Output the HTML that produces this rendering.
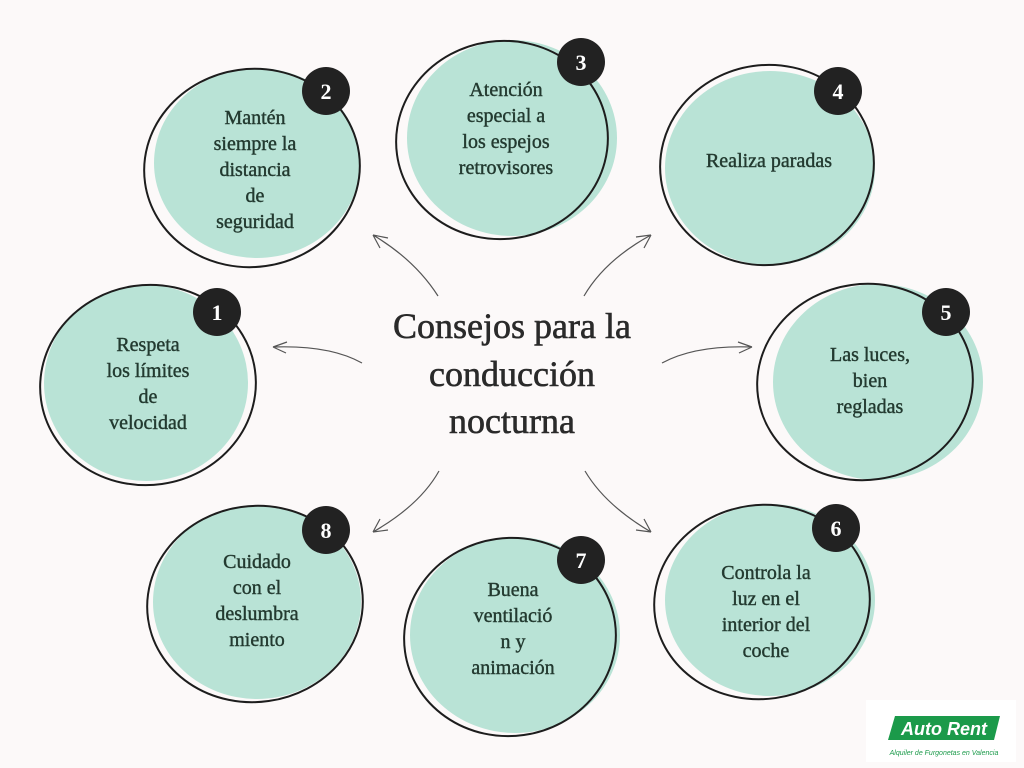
<!DOCTYPE html>
<html><head><meta charset="utf-8"><style>
html,body{margin:0;padding:0;background:#fcf9f9;}
svg{display:block}
.t{font-family:"Liberation Serif",serif;font-size:20px;fill:#233a30;stroke:#233a30;stroke-width:0.4;text-anchor:middle;}
.n{font-family:"Liberation Serif",serif;font-size:22px;fill:#fff;text-anchor:middle;font-weight:bold}
.h{font-family:"Liberation Serif",serif;font-size:36px;fill:#2a2a2a;stroke:#2a2a2a;stroke-width:0.6;text-anchor:middle;}
.o{fill:none;stroke:#1d1d1d;stroke-width:2}
.f{fill:#b9e3d6}
.a{fill:none;stroke:#555;stroke-width:1.2}
</style></head><body>
<svg width="1024" height="768" viewBox="0 0 1024 768">
<rect width="1024" height="768" fill="#fcf9f9"/>
<ellipse class="f" cx="257" cy="163" rx="103" ry="95"/>
<ellipse class="o" cx="252" cy="168" rx="108" ry="99" transform="rotate(-8 252 168)"/>
<circle cx="326" cy="91" r="24" fill="#222"/><text class="n" x="326" y="99">2</text>
<text class="t" x="255" y="124">Mantén</text><text class="t" x="255" y="150">siempre la</text><text class="t" x="255" y="176">distancia</text><text class="t" x="255" y="202">de</text><text class="t" x="255" y="228">seguridad</text>
<ellipse class="f" cx="512" cy="138" rx="105" ry="98"/>
<ellipse class="o" cx="502" cy="140" rx="106" ry="99" transform="rotate(-8 502 140)"/>
<circle cx="581" cy="62" r="24" fill="#222"/><text class="n" x="581" y="70">3</text>
<text class="t" x="506" y="96">Atención</text><text class="t" x="506" y="122">especial a</text><text class="t" x="506" y="148">los espejos</text><text class="t" x="506" y="174">retrovisores</text>
<ellipse class="f" cx="770" cy="168" rx="105" ry="97"/>
<ellipse class="o" cx="767" cy="165" rx="107" ry="100" transform="rotate(-8 767 165)"/>
<circle cx="838" cy="91" r="24" fill="#222"/><text class="n" x="838" y="99">4</text>
<text class="t" x="769" y="167">Realiza paradas</text>
<ellipse class="f" cx="146" cy="383" rx="102" ry="98"/>
<ellipse class="o" cx="148" cy="385" rx="108" ry="100" transform="rotate(-8 148 385)"/>
<circle cx="217" cy="312" r="24" fill="#222"/><text class="n" x="217" y="320">1</text>
<text class="t" x="148" y="351">Respeta</text><text class="t" x="148" y="377">los límites</text><text class="t" x="148" y="403">de</text><text class="t" x="148" y="429">velocidad</text>
<ellipse class="f" cx="878" cy="382" rx="105" ry="98"/>
<ellipse class="o" cx="865" cy="382" rx="108" ry="98" transform="rotate(-8 865 382)"/>
<circle cx="946" cy="312" r="24" fill="#222"/><text class="n" x="946" y="320">5</text>
<text class="t" x="870" y="361">Las luces,</text><text class="t" x="870" y="387">bien</text><text class="t" x="870" y="413">regladas</text>
<ellipse class="f" cx="257" cy="602" rx="104" ry="97"/>
<ellipse class="o" cx="255" cy="604" rx="108" ry="98" transform="rotate(-8 255 604)"/>
<circle cx="326" cy="530" r="24" fill="#222"/><text class="n" x="326" y="538">8</text>
<text class="t" x="257" y="568">Cuidado</text><text class="t" x="257" y="594">con el</text><text class="t" x="257" y="620">deslumbra</text><text class="t" x="257" y="646">miento</text>
<ellipse class="f" cx="515" cy="635" rx="105" ry="98"/>
<ellipse class="o" cx="510" cy="637" rx="106" ry="99" transform="rotate(-8 510 637)"/>
<circle cx="581" cy="560" r="24" fill="#222"/><text class="n" x="581" y="568">7</text>
<text class="t" x="513" y="596">Buena</text><text class="t" x="513" y="622">ventilació</text><text class="t" x="513" y="648">n y</text><text class="t" x="513" y="674">animación</text>
<ellipse class="f" cx="770" cy="600" rx="105" ry="96"/>
<ellipse class="o" cx="762" cy="602" rx="108" ry="97" transform="rotate(-8 762 602)"/>
<circle cx="836" cy="528" r="24" fill="#222"/><text class="n" x="836" y="536">6</text>
<text class="t" x="766" y="579">Controla la</text><text class="t" x="766" y="605">luz en el</text><text class="t" x="766" y="631">interior del</text><text class="t" x="766" y="657">coche</text>
<text class="h" x="512" y="338">Consejos para la</text>
<text class="h" x="512" y="386">conducción</text>
<text class="h" x="512" y="433">nocturna</text>
<path class="a" d="M438 296 Q415 260 373 235 M373 235 l15 3 M373 235 l7 13"/>
<path class="a" d="M584 296 Q605 260 651 235 M651 235 l-15 2 M651 235 l-7 13"/>
<path class="a" d="M362 363 Q330 345 273 347 M273 347 l14 -5 M273 347 l13 6"/>
<path class="a" d="M662 363 Q695 345 752 347 M752 347 l-14 -5 M752 347 l-13 6"/>
<path class="a" d="M439 471 Q420 505 373 532 M373 532 l7 -13 M373 532 l15 -2"/>
<path class="a" d="M585 471 Q605 505 651 532 M651 532 l-7 -13 M651 532 l-15 -2"/>
<rect x="866" y="700" width="150" height="62" fill="#fff"/>
<polygon points="895,716 1000,716 994,740 888,740" fill="#1b9a4a"/>
<text x="944" y="735" font-family="Liberation Sans,sans-serif" font-size="18" font-weight="bold" font-style="italic" fill="#fff" text-anchor="middle">Auto Rent</text>
<text x="944" y="755" font-family="Liberation Sans,sans-serif" font-size="7" font-style="italic" fill="#1b9a4a" text-anchor="middle">Alquiler de Furgonetas en Valencia</text>
</svg>
</body></html>
